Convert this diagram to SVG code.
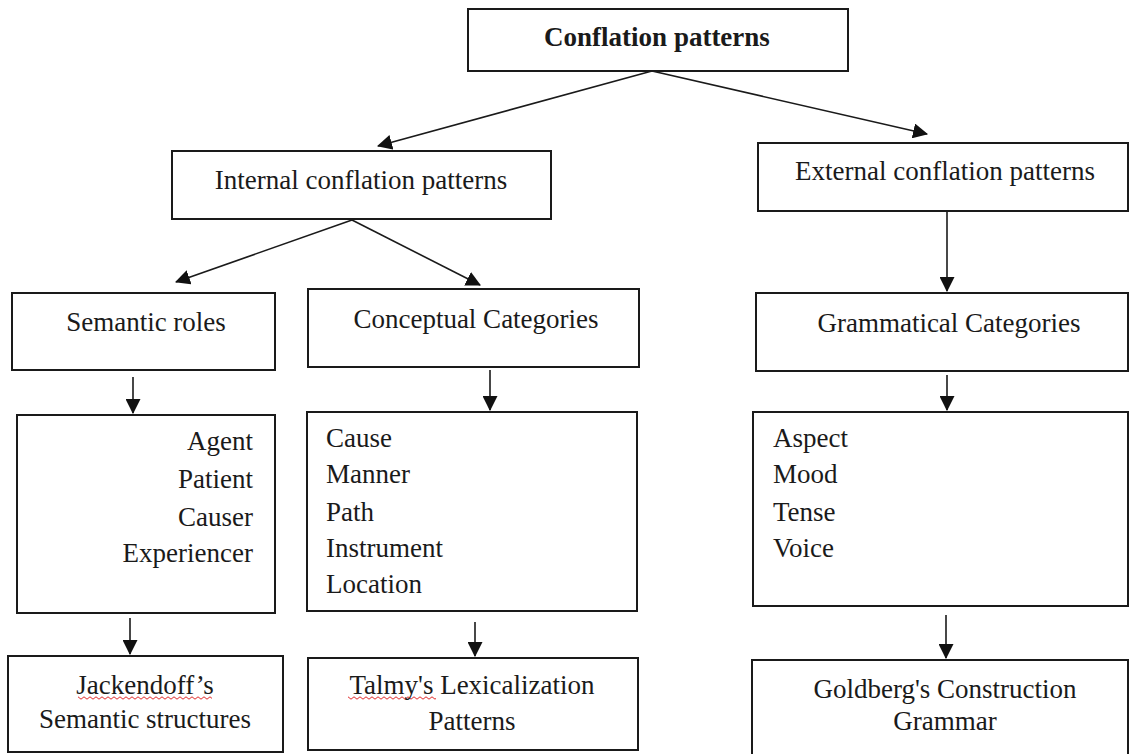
<svg xmlns="http://www.w3.org/2000/svg" width="1130" height="754" viewBox="0 0 1130 754">
  <style>
    .box { fill: #ffffff; stroke: #1a1a1a; stroke-width: 2; }
    .t { font-family: "Liberation Serif", "Times New Roman", serif; font-size: 27px; fill: #1a1a1a; }
    .c { text-anchor: middle; }
    .r { text-anchor: end; }
    .b { font-weight: bold; }
    .conn line { stroke: #1a1a1a; stroke-width: 1.6; marker-end: url(#arrow); }
  </style>
  <defs>
    <marker id="arrow" markerUnits="userSpaceOnUse" markerWidth="15" markerHeight="15" viewBox="0 0 14 14" refX="13" refY="7" orient="auto">
      <path d="M0,0 L14,7 L0,14 z" fill="#111111"/>
    </marker>
    <pattern id="wave" width="6" height="4" patternUnits="userSpaceOnUse">
      <path d="M0,0.8 L3,3.2 L6,0.8" fill="none" stroke="#e02828" stroke-width="1"/>
    </pattern>
  </defs>
  <rect width="1130" height="754" fill="#ffffff"/>

  <g class="conn" id="connectors">
    <line x1="652" y1="71" x2="378" y2="146"/>
    <line x1="652" y1="71" x2="927" y2="134"/>
    <line x1="352" y1="220" x2="176" y2="282"/>
    <line x1="352" y1="220" x2="480" y2="285"/>
    <line x1="947" y1="211" x2="947" y2="291"/>
    <line x1="133" y1="377" x2="133" y2="413"/>
    <line x1="490" y1="370" x2="490" y2="410"/>
    <line x1="947" y1="375" x2="947" y2="410"/>
    <line x1="130" y1="618" x2="130" y2="654"/>
    <line x1="475" y1="622" x2="475" y2="656"/>
    <line x1="946" y1="615" x2="946" y2="658"/>
  </g>

  <g id="conflation-patterns">
    <rect class="box" x="468" y="9" width="380" height="62"/>
    <text class="t c b" x="657" y="46">Conflation patterns</text>
  </g>

  <g id="internal">
    <rect class="box" x="172" y="151" width="379" height="68"/>
    <text class="t c" x="361" y="189">Internal conflation patterns</text>
  </g>

  <g id="external">
    <rect class="box" x="758" y="143" width="370" height="68"/>
    <text class="t c" x="945" y="180">External conflation patterns</text>
  </g>

  <g id="semantic-roles">
    <rect class="box" x="12" y="293" width="263" height="77"/>
    <text class="t c" x="146" y="331">Semantic roles</text>
  </g>

  <g id="conceptual-categories">
    <rect class="box" x="308" y="289" width="331" height="78"/>
    <text class="t c" x="476" y="328">Conceptual Categories</text>
  </g>

  <g id="grammatical-categories">
    <rect class="box" x="756" y="293" width="372" height="78"/>
    <text class="t c" x="949" y="332">Grammatical Categories</text>
  </g>

  <g id="roles-list">
    <rect class="box" x="17" y="415" width="258" height="198"/>
    <text class="t r" x="253" y="450">Agent</text>
    <text class="t r" x="253" y="488">Patient</text>
    <text class="t r" x="253" y="526">Causer</text>
    <text class="t r" x="253" y="562">Experiencer</text>
  </g>

  <g id="conceptual-list">
    <rect class="box" x="307" y="412" width="330" height="199"/>
    <text class="t" x="326" y="447">Cause</text>
    <text class="t" x="326" y="483">Manner</text>
    <text class="t" x="326" y="521">Path</text>
    <text class="t" x="326" y="557">Instrument</text>
    <text class="t" x="326" y="593">Location</text>
  </g>

  <g id="grammatical-list">
    <rect class="box" x="753" y="412" width="375" height="194"/>
    <text class="t" x="773" y="447">Aspect</text>
    <text class="t" x="773" y="483">Mood</text>
    <text class="t" x="773" y="521">Tense</text>
    <text class="t" x="773" y="557">Voice</text>
  </g>

  <g id="jackendoff">
    <rect class="box" x="8" y="656" width="275" height="96"/>
    <rect x="78" y="696" width="134" height="4" fill="url(#wave)"/>
    <text class="t c" x="145" y="694">Jackendoff’s</text>
    <text class="t c" x="145" y="728">Semantic structures</text>
  </g>

  <g id="talmy">
    <rect class="box" x="308" y="658" width="330" height="92"/>
    <rect x="348" y="696" width="88" height="4" fill="url(#wave)"/>
    <text class="t c" x="472" y="694">Talmy's Lexicalization</text>
    <text class="t c" x="472" y="730">Patterns</text>
  </g>

  <g id="goldberg">
    <rect class="box" x="752" y="660" width="376" height="100"/>
    <text class="t c" x="945" y="698">Goldberg's Construction</text>
    <text class="t c" x="945" y="730">Grammar</text>
  </g>
</svg>
